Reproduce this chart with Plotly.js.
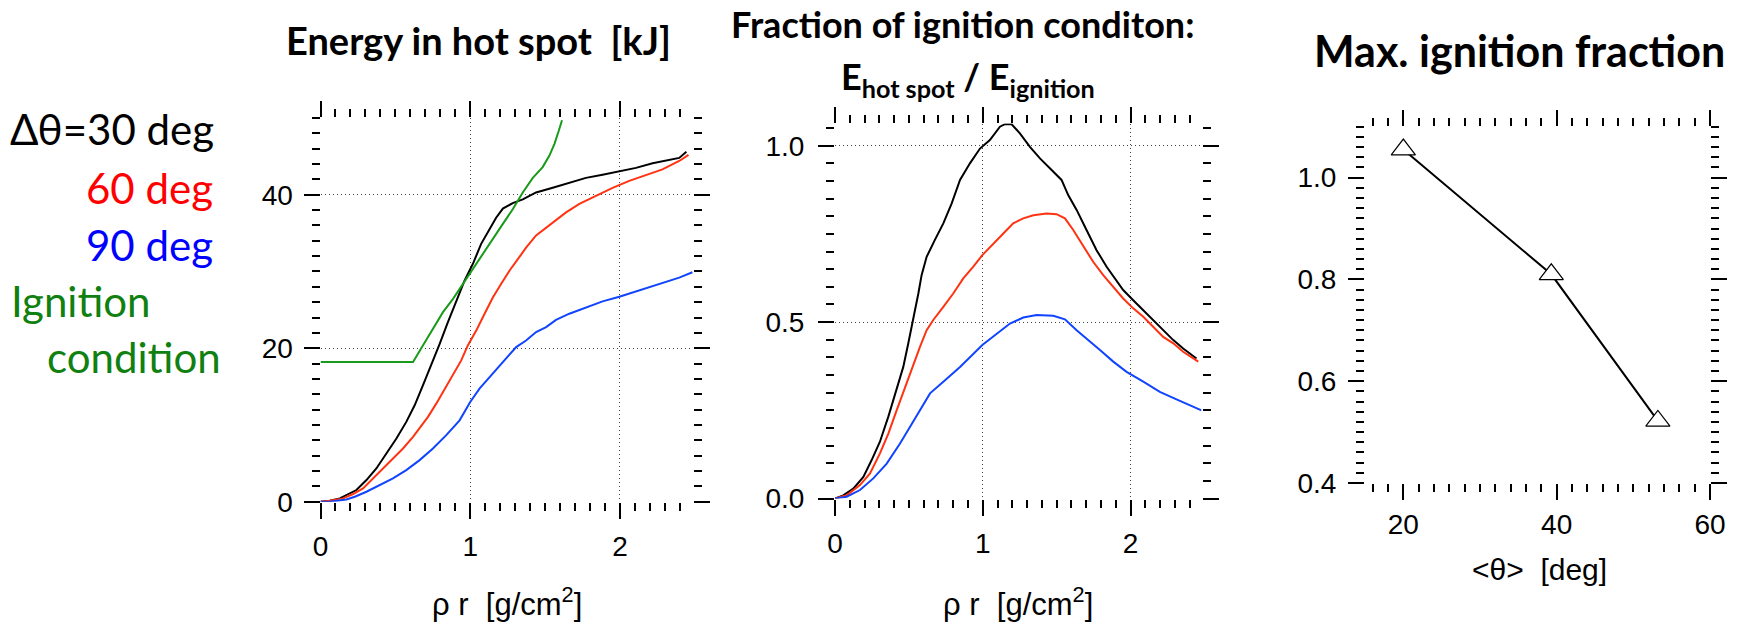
<!DOCTYPE html>
<html><head><meta charset="utf-8">
<script src="https://cdn.plot.ly/plotly-3.0.1.min.js"></script>
<style>body{margin:0;background:#fff}#plot{width:1743px;height:624px}</style>
</head><body><div id="plot"></div>
<script>
// ---- Panel 1: Energy in hot spot [kJ] vs rho r ----
var rhoE30 = [0, 0.062, 0.129, 0.196, 0.24, 0.307, 0.373, 0.44, 0.507, 0.573, 0.629, 0.684, 0.74, 0.796, 0.851, 0.907, 0.962, 1.018, 1.073, 1.129, 1.173, 1.218, 1.284, 1.351, 1.44, 1.551, 1.662, 1.773, 1.884, 1.996, 2.107, 2.218, 2.329, 2.396, 2.444];
var E30    = [0, 0.13, 0.43, 1.08, 1.52, 2.82, 4.33, 6.28, 8.23, 10.4, 12.56, 15.16, 17.76, 20.58, 23.4, 26.2, 28.8, 31.0, 33.6, 35.5, 37.0, 38.2, 38.9, 39.4, 40.3, 40.9, 41.6, 42.2, 42.6, 43.1, 43.5, 44.1, 44.5, 44.8, 45.6];
var rhoE60 = [0, 0.062, 0.151, 0.218, 0.284, 0.351, 0.418, 0.484, 0.551, 0.618, 0.662, 0.718, 0.773, 0.829, 0.884, 0.94, 0.984, 1.04, 1.096, 1.151, 1.207, 1.262, 1.318, 1.373, 1.44, 1.507, 1.573, 1.64, 1.729, 1.84, 1.951, 2.062, 2.173, 2.284, 2.396, 2.458];
var E60    = [0, 0.13, 0.43, 1.0, 1.73, 3.03, 4.33, 5.63, 6.93, 8.45, 9.53, 11.05, 12.78, 14.73, 16.46, 18.41, 20.36, 22.3, 24.5, 26.6, 28.4, 30.1, 31.6, 33.1, 34.7, 35.7, 36.8, 37.7, 38.8, 39.9, 40.9, 41.8, 42.5, 43.3, 44.4, 45.2];
var rhoE90 = [0, 0.062, 0.173, 0.229, 0.307, 0.396, 0.484, 0.573, 0.662, 0.751, 0.84, 0.929, 1.0, 1.062, 1.151, 1.24, 1.307, 1.373, 1.44, 1.507, 1.573, 1.662, 1.773, 1.884, 1.996, 2.129, 2.262, 2.396, 2.484];
var E90    = [0, 0.0, 0.3, 0.65, 1.3, 2.17, 3.03, 4.12, 5.42, 6.93, 8.67, 10.6, 13.0, 14.73, 16.68, 18.63, 20.15, 21.0, 22.1, 22.75, 23.7, 24.5, 25.35, 26.1, 26.7, 27.5, 28.3, 29.2, 29.9];
var rhoIgn = [0, 0.618, 0.673, 0.74, 0.818, 0.884, 0.951, 1.018, 1.084, 1.151, 1.218, 1.284, 1.351, 1.418, 1.484, 1.529, 1.562, 1.591, 1.613];
var EIgn   = [18.2, 18.2, 20.0, 22.1, 24.7, 26.4, 28.4, 30.3, 32.3, 34.2, 36.2, 38.1, 40.3, 42.2, 43.6, 45.1, 46.6, 48.3, 49.7];

// ---- Panel 2: E_hot spot / E_ignition vs rho r ----
var rhoF30 = [0, 0.056, 0.124, 0.192, 0.248, 0.304, 0.361, 0.417, 0.462, 0.496, 0.53, 0.564, 0.586, 0.62, 0.676, 0.733, 0.789, 0.846, 0.913, 0.981, 1.048, 1.116, 1.15, 1.195, 1.251, 1.319, 1.387, 1.477, 1.533, 1.578, 1.635, 1.702, 1.77, 1.838, 1.883, 1.95, 2.018, 2.086, 2.153, 2.221, 2.289, 2.356, 2.446];
var F30    = [0, 0.009, 0.028, 0.061, 0.109, 0.161, 0.232, 0.307, 0.373, 0.44, 0.506, 0.581, 0.633, 0.685, 0.733, 0.78, 0.836, 0.903, 0.95, 0.992, 1.016, 1.054, 1.061, 1.061, 1.035, 0.997, 0.964, 0.926, 0.903, 0.86, 0.818, 0.761, 0.704, 0.657, 0.629, 0.591, 0.562, 0.534, 0.506, 0.477, 0.449, 0.425, 0.397];
var rhoF60 = [0, 0.079, 0.169, 0.237, 0.304, 0.361, 0.417, 0.474, 0.53, 0.575, 0.62, 0.665, 0.733, 0.8, 0.868, 0.936, 0.997, 1.071, 1.139, 1.206, 1.274, 1.342, 1.432, 1.499, 1.556, 1.612, 1.68, 1.747, 1.815, 1.883, 1.95, 2.018, 2.086, 2.153, 2.221, 2.289, 2.356, 2.458];
var F60    = [0, 0.009, 0.038, 0.071, 0.128, 0.184, 0.25, 0.317, 0.383, 0.43, 0.477, 0.506, 0.543, 0.581, 0.624, 0.657, 0.69, 0.723, 0.751, 0.78, 0.794, 0.803, 0.808, 0.806, 0.794, 0.761, 0.714, 0.671, 0.633, 0.6, 0.567, 0.539, 0.515, 0.487, 0.458, 0.44, 0.416, 0.388];
var rhoF90 = [0, 0.079, 0.169, 0.259, 0.35, 0.44, 0.507, 0.575, 0.643, 0.733, 0.846, 0.997, 1.094, 1.184, 1.274, 1.364, 1.477, 1.556, 1.635, 1.702, 1.793, 1.883, 1.973, 2.086, 2.198, 2.311, 2.401, 2.48];
var F90    = [0, 0.005, 0.024, 0.057, 0.099, 0.156, 0.203, 0.25, 0.298, 0.331, 0.373, 0.435, 0.468, 0.496, 0.513, 0.52, 0.518, 0.508, 0.477, 0.454, 0.421, 0.388, 0.359, 0.331, 0.302, 0.281, 0.265, 0.25];

// ---- Panel 3: Max. ignition fraction vs <theta> ----
var thetaMean = [20, 39.3, 53.2];
var maxFrac   = [1.055, 0.81, 0.522];

// ---- Text ----
var title1 = "Energy in hot spot \u00a0[kJ]";
var title2a = "Fraction of ignition conditon:";
var title2b = "E<sub>hot spot</sub> / E<sub>ignition</sub>";
var title3 = "Max. ignition fraction";
var xlab12 = "\u03c1 r \u00a0[g/cm<sup>2</sup>]";
var xlab3 = "&lt;\u03b8&gt; \u00a0[deg]";
var legendText = ["\u0394\u03b8=30 deg", "60 deg", "90 deg", "Ignition", "condition"];

var colBlack = '#000000', colRed = '#ff3311', colBlue = '#1144ff', colGreen = '#1a9a1a';

var W = 1743, H = 624;
function px(x){ return x / W; }
function py(y){ return 1 - y / H; }

var tickFont = {family: 'Liberation Sans, Arial, sans-serif', size: 28, color: '#000'};
function ax(o){
  return Object.assign({
    showline: false, zeroline: false, mirror: 'ticks', ticks: 'outside',
    ticklen: 16, tickwidth: 2, tickcolor: '#000',
    showgrid: true, gridcolor: '#444', griddash: '1px,3px', gridwidth: 1,
    tickfont: tickFont, fixedrange: true
  }, o);
}
function minor(d){ return {dtick: d, ticks: 'outside', ticklen: 8, tickwidth: 2, tickcolor: '#000', showgrid: false}; }

var traces = [
  {x: rhoE30, y: E30, xaxis: 'x', yaxis: 'y', mode: 'lines', line: {color: colBlack, width: 2}},
  {x: rhoE60, y: E60, xaxis: 'x', yaxis: 'y', mode: 'lines', line: {color: colRed, width: 2}},
  {x: rhoE90, y: E90, xaxis: 'x', yaxis: 'y', mode: 'lines', line: {color: colBlue, width: 2}},
  {x: rhoIgn, y: EIgn, xaxis: 'x', yaxis: 'y', mode: 'lines', line: {color: colGreen, width: 2}},
  {x: rhoF30, y: F30, xaxis: 'x2', yaxis: 'y2', mode: 'lines', line: {color: colBlack, width: 2}, cliponaxis: false},
  {x: rhoF60, y: F60, xaxis: 'x2', yaxis: 'y2', mode: 'lines', line: {color: colRed, width: 2}},
  {x: rhoF90, y: F90, xaxis: 'x2', yaxis: 'y2', mode: 'lines', line: {color: colBlue, width: 2}},
  {x: thetaMean, y: maxFrac, xaxis: 'x3', yaxis: 'y3', mode: 'lines+markers', line: {color: '#000', width: 2},
   marker: {symbol: 'triangle-up', size: 21, color: '#fff', line: {color: '#000', width: 1.2}}, cliponaxis: false}
];

function ann(text, x, y, xa, size, color, family, weight){
  return {text: text, x: px(x), y: py(y), xref: 'paper', yref: 'paper', xanchor: xa, yanchor: 'middle',
          showarrow: false, font: {family: family, size: size, color: color, weight: weight || 'normal'}};
}
var LATO = 'Lato, Open Sans, sans-serif', LIB = 'Liberation Sans, Arial, sans-serif';

var annotations = [
  ann(title1, 478, 40, 'center', 38, '#000', LATO, 'bold'),
  ann(title2a, 962, 24, 'center', 36, '#000', LATO, 'bold'),
  ann(title2b, 968, 78, 'center', 36, '#000', LATO, 'bold'),
  ann(title3, 1519, 50, 'center', 43, '#000', LATO, 'bold'),
  ann(legendText[0], 216, 129, 'right', 42, colBlack, LATO),
  ann(legendText[1], 215, 188, 'right', 42, '#ff0000', LATO),
  ann(legendText[2], 215, 245, 'right', 42, '#0000ff', LATO),
  ann(legendText[3], 9, 301, 'left', 42, '#108010', LATO),
  ann(legendText[4], 223, 357, 'right', 42, '#108010', LATO),
  ann(xlab12, 507, 602, 'center', 31, '#000', LIB),
  ann(xlab12, 1018, 602, 'center', 31, '#000', LIB),
  ann(xlab3, 1539, 569, 'center', 30, '#000', LIB)
];

var layout = {
  width: W, height: H, margin: {l: 0, r: 0, t: 0, b: 0},
  paper_bgcolor: '#fff', plot_bgcolor: 'rgba(0,0,0,0)', showlegend: false,
  xaxis: ax({domain: [px(320.5), px(693.3)], range: [0, 2.49], tick0: 0, dtick: 1, minor: minor(0.1), anchor: 'y', ticklabelstandoff: 4}),
  yaxis: ax({domain: [py(501.7), py(118)], range: [0, 50], tick0: 0, dtick: 20, minor: minor(2), anchor: 'x', ticklabelstandoff: 5}),
  xaxis2: ax({domain: [px(835), px(1201.5)], range: [0, 2.48], tick0: 0, dtick: 1, minor: minor(0.1), anchor: 'y2', ticklabelstandoff: 4}),
  yaxis2: ax({domain: [py(498.5), py(123.5)], range: [0, 1.063], tick0: 0, dtick: 0.5, tickformat: '.1f', minor: minor(0.05), anchor: 'x2', ticklabelstandoff: 8}),
  xaxis3: ax({domain: [px(1365), px(1710)], range: [15, 60], tick0: 0, dtick: 20, minor: minor(2), anchor: 'y3', showgrid: false, ticklabelstandoff: 0}),
  yaxis3: ax({domain: [py(483), py(126.7)], range: [0.4, 1.1], tick0: 0, dtick: 0.2, tickformat: '.1f', minor: minor(0.02), anchor: 'x3', showgrid: false, ticklabelstandoff: 6}),
  annotations: annotations
};

Plotly.newPlot('plot', traces, layout, {staticPlot: true, displayModeBar: false});
</script></body></html>
